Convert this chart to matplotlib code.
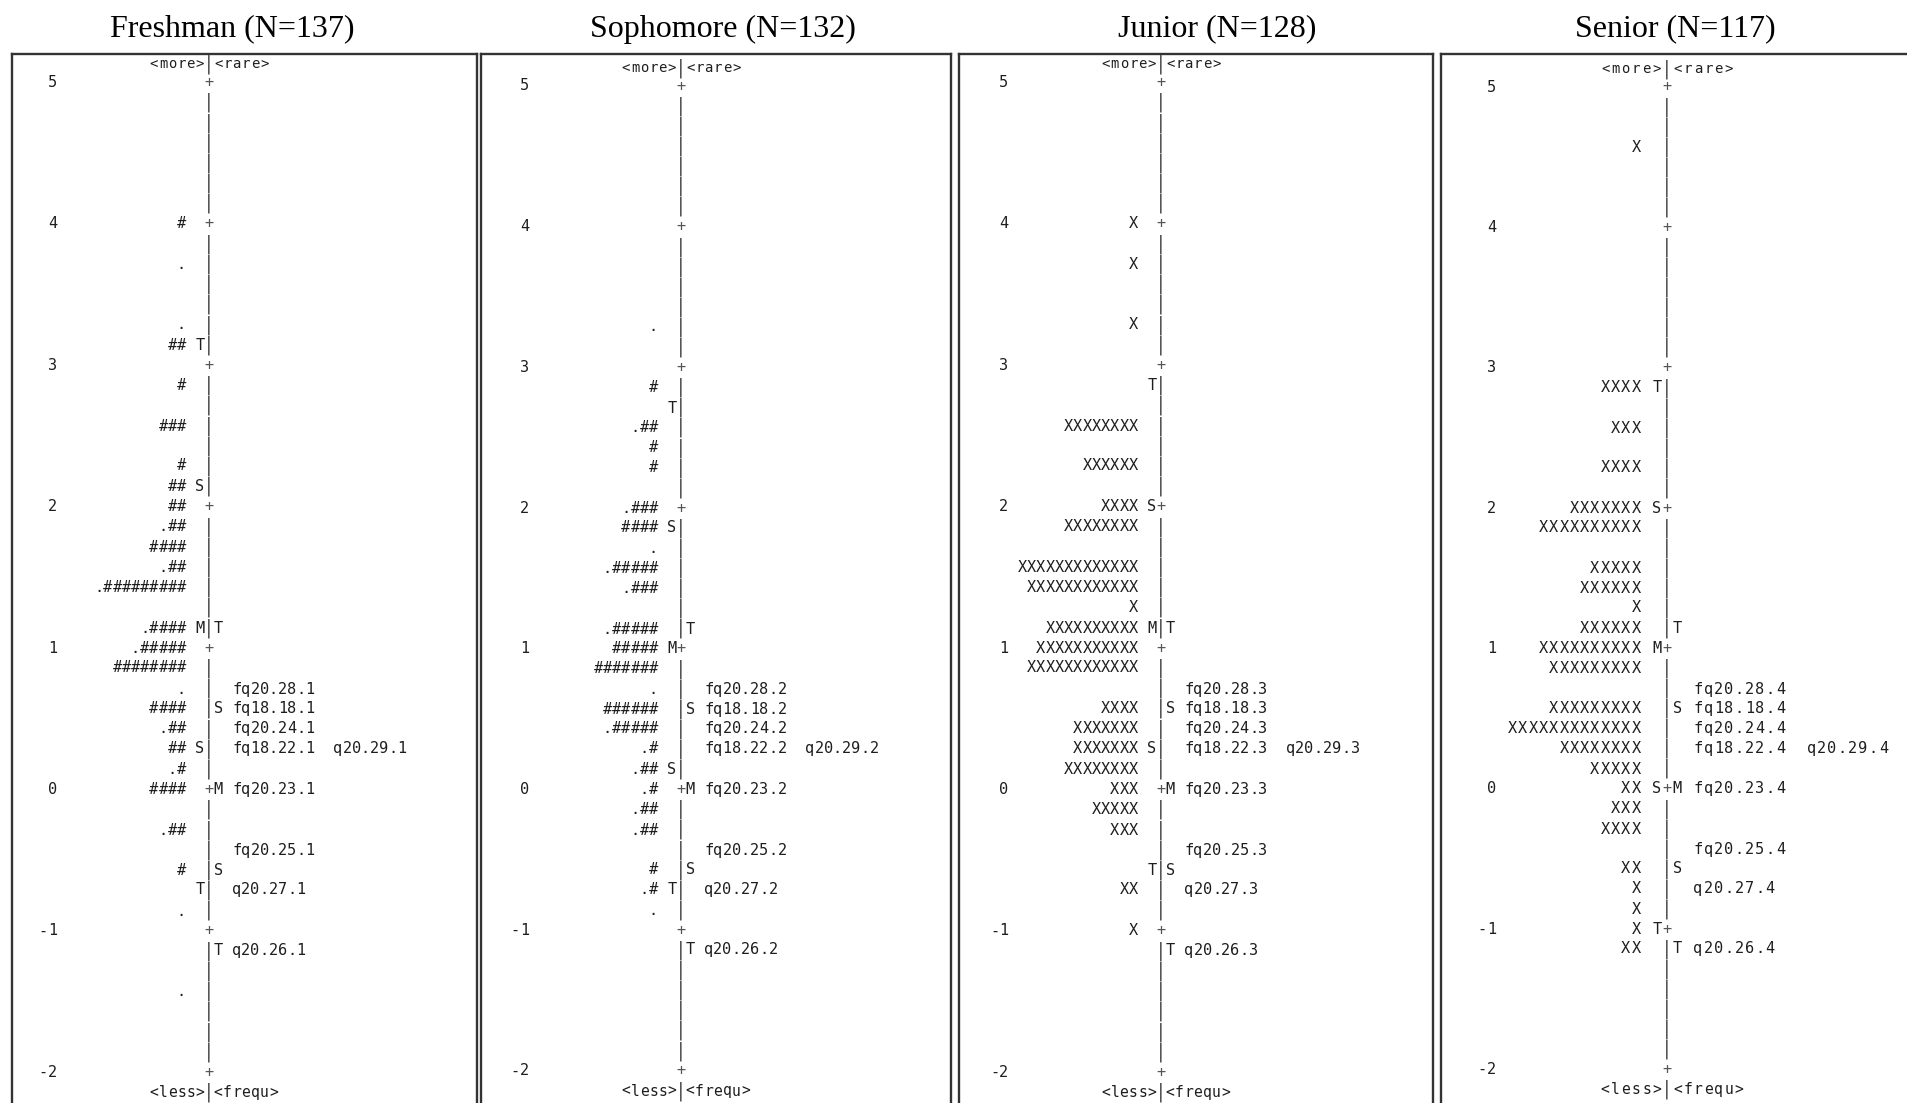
import matplotlib.pyplot as plt

W, H = 1908, 1103
INK = '#1e1e1e'
BAR = '#555555'
MONO = 'DejaVu Sans Mono'

titles = ['Freshman (N=137)', 'Sophomore (N=132)', 'Junior (N=128)', 'Senior (N=117)']

# person measures (logits) and how many persons sit at each level
fresh_levels = [4.00, 3.71, 3.29, 3.14, 2.86, 2.57, 2.29, 2.14, 2.00, 1.86, 1.71, 1.57, 1.43,
                1.14, 1.00, 0.86, 0.71, 0.57, 0.43, 0.29, 0.14, 0.00, -0.29, -0.57, -0.86, -1.43]
fresh_counts = [2, 1, 1, 4, 2, 6, 2, 4, 4, 5, 8, 5, 19, 9, 11, 16, 1, 8, 5, 4, 3, 8, 5, 2, 1, 1]

soph_levels = [3.29, 2.86, 2.57, 2.43, 2.29, 2.00, 1.86, 1.71, 1.57, 1.43, 1.14, 1.00,
               0.86, 0.71, 0.57, 0.43, 0.29, 0.14, 0.00, -0.14, -0.29, -0.57, -0.71, -0.86]
soph_counts = [1, 2, 5, 2, 2, 7, 8, 1, 11, 7, 11, 10, 14, 1, 12, 11, 3, 5, 3, 5, 5, 2, 3, 1]

junior_levels = [4.00, 3.71, 3.29, 2.57, 2.29, 2.00, 1.86, 1.57, 1.43, 1.29, 1.14, 1.00,
                 0.86, 0.57, 0.43, 0.29, 0.14, 0.00, -0.14, -0.29, -0.71, -1.00]
junior_counts = [1, 1, 1, 8, 6, 4, 8, 13, 12, 1, 10, 11, 12, 4, 7, 7, 8, 3, 5, 3, 2, 1]

senior_levels = [4.57, 2.86, 2.57, 2.29, 2.00, 1.86, 1.57, 1.43, 1.29, 1.14, 1.00, 0.86,
                 0.57, 0.43, 0.29, 0.14, 0.00, -0.14, -0.29, -0.57, -0.71, -0.86, -1.00, -1.14]
senior_counts = [1, 4, 3, 4, 7, 10, 5, 6, 1, 6, 10, 9, 9, 13, 8, 5, 2, 3, 4, 2, 1, 1, 1, 2]

# mean / 1 SD / 2 SD marks for persons, per group
fresh_marks = [(3.14, 'T'), (2.14, 'S'), (1.14, 'M'), (0.29, 'S'), (-0.71, 'T')]
soph_marks = [(2.71, 'T'), (1.86, 'S'), (1.00, 'M'), (0.14, 'S'), (-0.71, 'T')]
junior_marks = [(2.86, 'T'), (2.00, 'S'), (1.14, 'M'), (0.29, 'S'), (-0.57, 'T')]
senior_marks = [(2.86, 'T'), (2.00, 'S'), (1.00, 'M'), (0.00, 'S'), (-1.00, 'T')]

# items (same calibration in every group) and their marks
item_names = ['fq20.28', 'fq18.18', 'fq20.24', 'fq18.22', 'q20.29', 'fq20.23', 'fq20.25', 'q20.27', 'q20.26']
item_levels = [0.71, 0.57, 0.43, 0.29, 0.29, 0.00, -0.43, -0.71, -1.14]
item_marks = [(1.14, 'T'), (0.57, 'S'), (0.00, 'M'), (-0.57, 'S'), (-1.14, 'T')]

scale_ticks = [5, 4, 3, 2, 1, 0, -1, -2]

groups = [
    (fresh_levels, fresh_counts, fresh_marks, 'hash'),
    (soph_levels, soph_counts, soph_marks, 'hash'),
    (junior_levels, junior_counts, junior_marks, 'x'),
    (senior_levels, senior_counts, senior_marks, 'x'),
]

# panel frames in pixels: left, right, column of the centre bar, char width, row 0 y, row step
frames = [
    (12, 477, 209, 9.2, 82.5, 20.2),
    (481, 951, 681, 9.2, 86.0, 20.1),
    (959, 1433, 1161, 9.25, 82.5, 20.2),
    (1441, 1916, 1667, 10.3, 87.0, 20.05),
]
title_x = [232, 723, 1217, 1675]
box_top = 54


def symbols(n, style):
    if style == 'hash':
        return '.' * (n % 2) + '#' * (n // 2)
    return 'X' * n


def put(ax, col, y, s, size=11, color=INK):
    # one glyph per character cell so columns line up exactly
    for i, ch in enumerate(s):
        if ch != ' ':
            ax.text(col + i, y, ch, ha='center', va='center', fontsize=size,
                    family=MONO, color=color)


def put_right(ax, end_col, y, s, size=11):
    put(ax, end_col - len(s) + 1, y, s, size)


fig = plt.figure(figsize=(W / 100, H / 100), dpi=100)

for k, ((levels, counts, marks, style), fr) in enumerate(zip(groups, frames)):
    left, right, bar_x, cw, row0, dy = fr
    ax = fig.add_axes([left / W, 0, (right - left) / W, (H - box_top) / H])
    ax.set_xlim(-(bar_x - left) / cw, (right - bar_x) / cw)
    step = dy * 7  # pixels per logit
    ax.set_ylim(5 - (H - row0) / step, 5 + (row0 - box_top) / step)
    ax.set_xticks([])
    ax.set_yticks([])
    ax.spines['bottom'].set_visible(False)
    for side in ['top', 'left', 'right']:
        ax.spines[side].set_linewidth(1.7)
        ax.spines[side].set_color('#333333')

    # centre bar with '+' at whole logits
    for r in range(50):
        y = 5 - r / 7
        if r % 7 == 0:
            put(ax, 0, y, '+', color=BAR)
        else:
            put(ax, 0, y, '|', size=14, color=BAR)

    for t in scale_ticks:
        put_right(ax, -17, t, str(t))

    top_y = 5 + 0.9 / 7
    bot_y = -2 - 1 / 7
    put_right(ax, -1, top_y, '<more>', size=10)
    put(ax, 0, top_y, '|', size=14, color=BAR)
    put(ax, 1, top_y, '<rare>', size=10)
    put_right(ax, -1, bot_y, '<less>', size=10.5)
    put(ax, 0, bot_y, '|', size=14, color=BAR)
    put(ax, 1, bot_y, '<frequ>', size=10.5)

    for lv, n in zip(levels, counts):
        put_right(ax, -3, lv, symbols(n, style))
    for lv, m in marks:
        put(ax, -1, lv, m)
    for lv, m in item_marks:
        put(ax, 1, lv, m)

    used = {}
    for name, lv in zip(item_names, item_levels):
        slot = used.get(lv, 0)
        put(ax, 3 + 11 * slot, lv, f'{name}.{k + 1}')
        used[lv] = slot + 1

    fig.text(title_x[k] / W, 1 - 29 / H, titles[k], ha='center', va='center',
             fontsize=23, family='Liberation Serif', color='black')

fig.savefig('out.png', dpi=100)
